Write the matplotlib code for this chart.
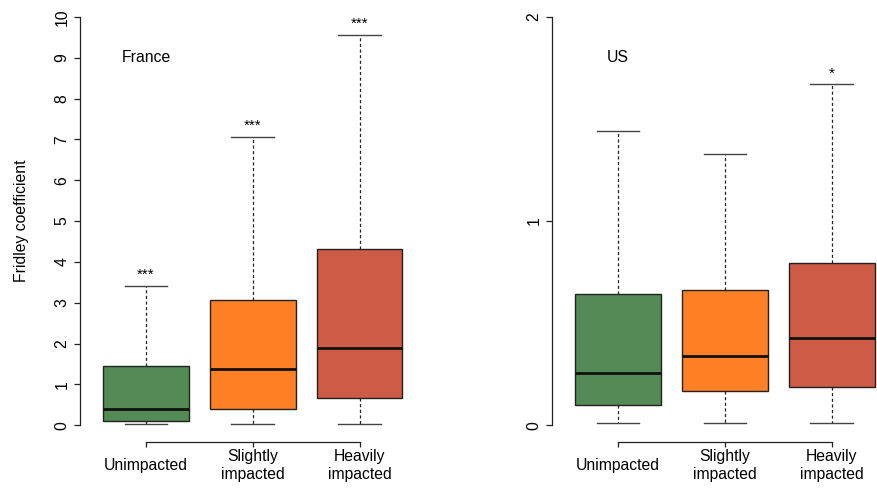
import matplotlib
matplotlib.use("Agg")
import matplotlib.pyplot as plt

plt.rcParams['font.family'] = ['Liberation Sans', 'DejaVu Sans']

categories = ["Unimpacted", "Slightly\nimpacted", "Heavily\nimpacted"]
colors = ["#548B54", "#FF7F24", "#CD5B45"]

# France: lower whisker, Q1, median, Q3, upper whisker
france_whislo = [0.02, 0.02, 0.02]
france_q1 = [0.11, 0.39, 0.67]
france_med = [0.39, 1.37, 1.90]
france_q3 = [1.45, 3.06, 4.31]
france_whishi = [3.41, 7.06, 9.57]
france_signif = ["***", "***", "***"]

# US
us_whislo = [0.011, 0.011, 0.011]
us_q1 = [0.098, 0.168, 0.188]
us_med = [0.256, 0.341, 0.429]
us_q3 = [0.645, 0.660, 0.796]
us_whishi = [1.44, 1.33, 1.67]
us_signif = ["", "", "*"]

FS = 11.3
W, H = 877, 488
fig = plt.figure(figsize=(W / 100, H / 100), dpi=100)
fig.patch.set_facecolor("white")


def panel(rect, whislo, q1, med, q3, whishi, signif, ymax, yticks, title):
    ax = fig.add_axes(rect)
    stats = [dict(whislo=a, q1=b, med=c, q3=d, whishi=e, fliers=[])
             for a, b, c, d, e in zip(whislo, q1, med, q3, whishi)]
    pos = [1, 2, 3]
    bp = ax.bxp(stats, positions=pos, widths=0.8, patch_artist=True,
                showfliers=False, capwidths=0.4,
                boxprops=dict(edgecolor="#222222", linewidth=1.0),
                medianprops=dict(color="#111111", linewidth=2.0, solid_capstyle="butt"),
                whiskerprops=dict(color="#222222", linewidth=0.9, linestyle=(0, (2.5, 2.0))),
                capprops=dict(color="#444444", linewidth=1.0))
    for patch, c in zip(bp["boxes"], colors):
        patch.set_facecolor(c)
    for p, hi, s in zip(pos, whishi, signif):
        if s:
            ax.annotate(s, (p, hi), xytext=(0, 5), textcoords="offset points",
                        ha="center", va="baseline", fontsize=FS - 0.5)
    pad = 0.04 * ymax
    ax.set_ylim(-pad, ymax + pad)
    ax.set_xlim(0.5 - 0.12, 3.5 + 0.12)
    for s in ("top", "right"):
        ax.spines[s].set_visible(False)
    ax.spines["left"].set_bounds(0, ymax)
    ax.spines["bottom"].set_bounds(1, 3)
    for s in ("left", "bottom"):
        ax.spines[s].set_linewidth(0.9)
        ax.spines[s].set_color("#222222")
    ax.set_yticks(yticks)
    ax.set_yticklabels([str(t) for t in yticks])
    ax.tick_params(axis="y", length=4.3, width=0.9, color="#222222",
                   labelsize=FS, pad=8.6, labelrotation=90)
    for lab in ax.get_yticklabels():
        lab.set_ha("center")
        lab.set_va("center")
    ax.set_xticks(pos)
    ax.set_xticklabels(categories)
    ax.tick_params(axis="x", length=3.6, width=0.9, color="#222222",
                   labelsize=FS, pad=13.5)
    for lab in ax.get_xticklabels():
        lab.set_va("center")
        lab.set_linespacing(1.25)
    ax.text(1, ymax * 0.9, title, ha="center", va="center", fontsize=FS)
    ax.set_facecolor("none")
    return ax


ax_w = 346.3 / W
ax_b = (H - 441.5) / H
ax_h = 440.8 / H
panel([79.7 / W, ax_b, ax_w, ax_h], france_whislo, france_q1, france_med,
      france_q3, france_whishi, france_signif, 10, list(range(0, 11)), "France")
panel([551.8 / W, ax_b, ax_w, ax_h], us_whislo, us_q1, us_med,
      us_q3, us_whishi, us_signif, 2, [0, 1, 2], "US")

fig.text(22 / W, 1 - 221 / H, "Fridley coefficient", rotation=90,
         ha="center", va="center", fontsize=FS)

fig.savefig("out.png", dpi=100)
